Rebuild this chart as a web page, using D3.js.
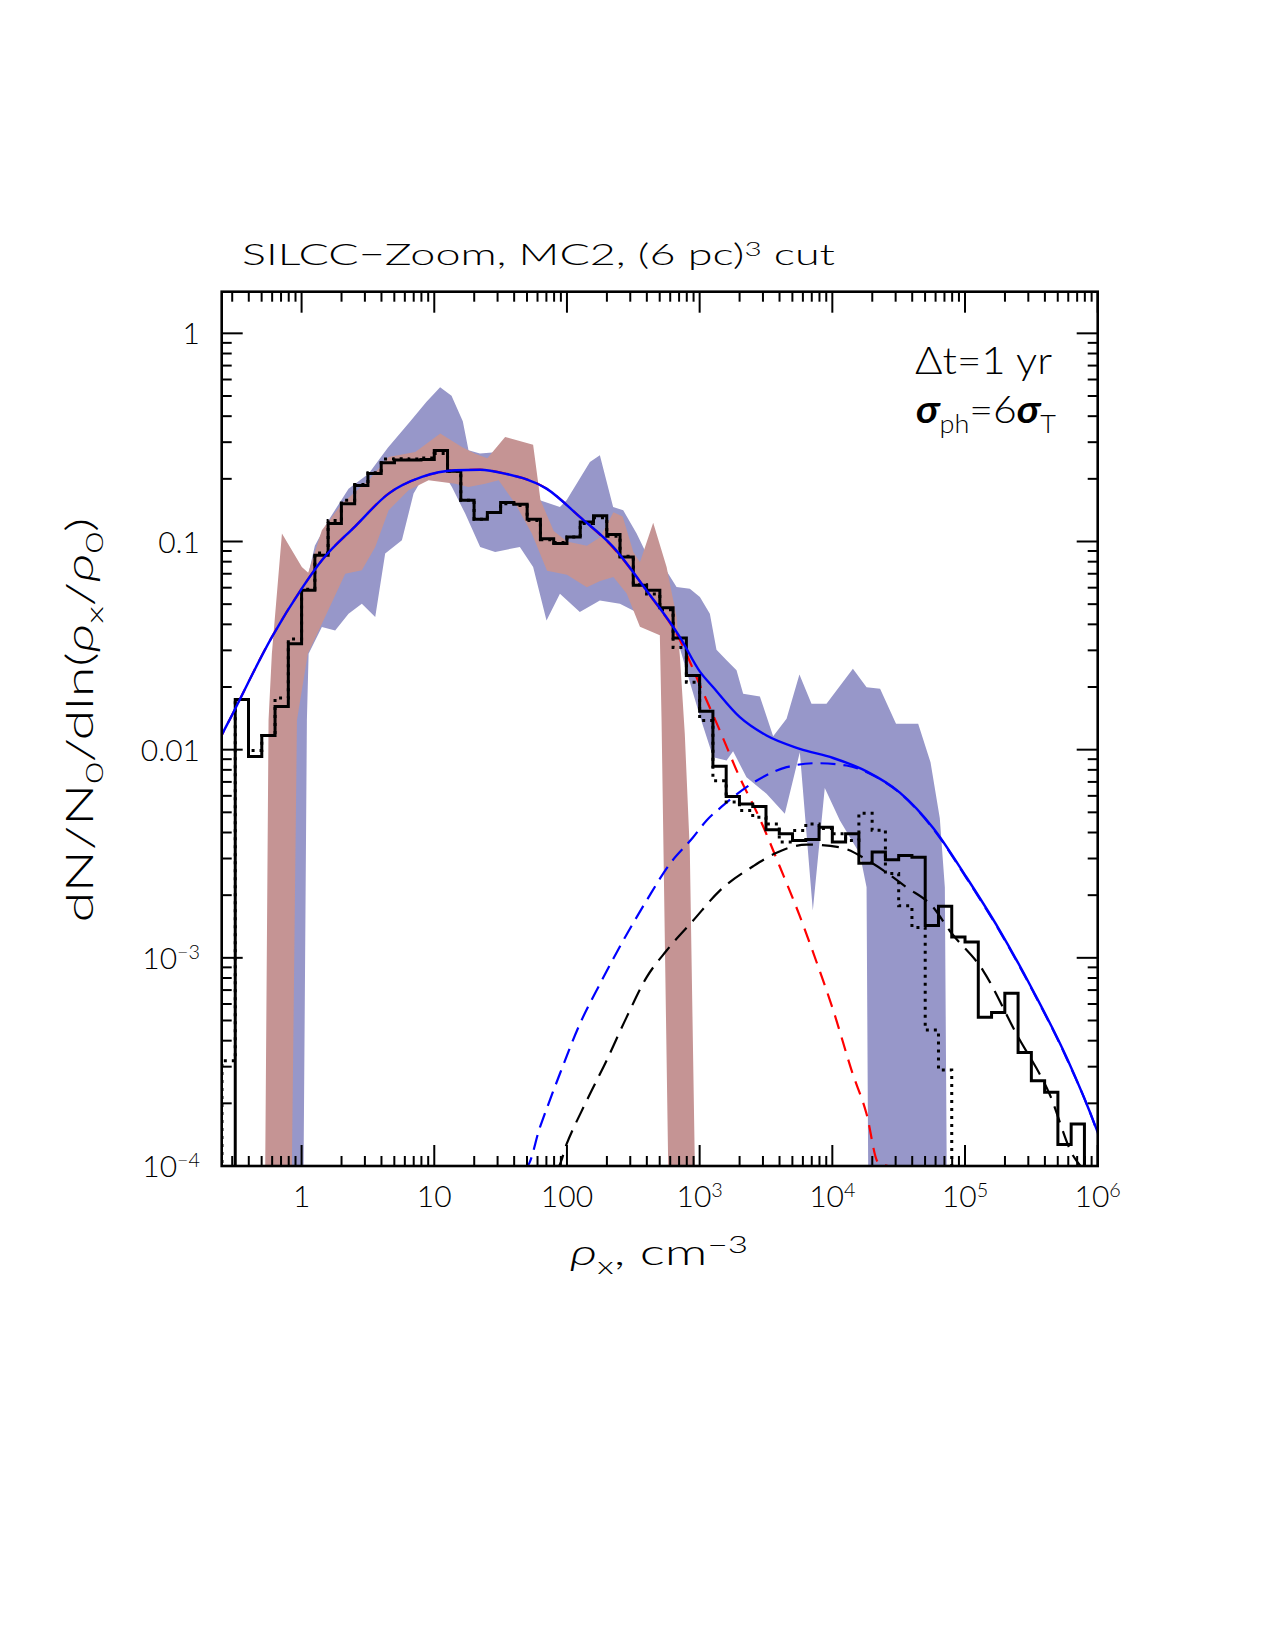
<!DOCTYPE html>
<html><head><meta charset="utf-8">
<script src="https://cdn.jsdelivr.net/npm/d3@7/dist/d3.min.js"></script>
<style>body{margin:0;background:#fff}</style>
</head><body>
<svg id="c" width="1275" height="1650" xmlns="http://www.w3.org/2000/svg"></svg>
<script>
// ---------------- data (densities as log10 where noted) -------------
const histEdgesLog = [-0.6,-0.5,-0.4,-0.3,-0.2,-0.1,0.0,0.1,0.2,0.3,0.4,0.5,0.6,0.7,0.8,0.9,1.0,1.1,1.2,1.3,1.4,1.5,1.6,1.7,1.8,1.9,2.0,2.1,2.2,2.3,2.4,2.5,2.6,2.7,2.8,2.9,3.0,3.1,3.2,3.3,3.4,3.5,3.6,3.7,3.8,3.9,4.0,4.1,4.2,4.3,4.4,4.5,4.6,4.7,4.8,4.9,5.0,5.1,5.2,5.3,5.4,5.5,5.6,5.7,5.8,5.9,6.0];
const histSolid = [0,0.0174,0.00927,0.0117,0.0161,0.0323,0.0583,0.0859,0.122,0.152,0.186,0.212,0.239,0.246,0.246,0.248,0.274,0.2175,0.158,0.128,0.138,0.154,0.151,0.128,0.103,0.0977,0.105,0.124,0.133,0.108,0.0843,0.0616,0.0583,0.048,0.0344,0.0227,0.0153,0.00833,0.00596,0.00549,0.00533,0.00412,0.00394,0.00366,0.0037,0.00424,0.0036,0.00394,0.00285,0.00322,0.00296,0.0031,0.00304,0.00143,0.00177,0.00126,0.00119,0.000518,0.000547,0.000675,0.000351,0.000257,0.000226,0.000127,0.000159,0];
const histDotted = [0.00032,0.0174,0.0099,0.0117,0.0177,0.034,0.059,0.088,0.126,0.158,0.188,0.214,0.249,0.25,0.249,0.252,0.265,0.2175,0.158,0.128,0.138,0.152,0.149,0.126,0.102,0.099,0.105,0.122,0.13,0.106,0.085,0.062,0.056,0.047,0.031,0.0211,0.0138,0.0071,0.0056,0.0051,0.00473,0.0044,0.0036,0.00409,0.0044,0.00418,0.00394,0.00366,0.00495,0.0041,0.00254,0.00178,0.0014,0.00045,0.000289,0,0,0,0,0,0,0,0,0,0,0];

// curves: [log10 rho, log10 dN/N0/dln]
const fitTotal = [[-0.63,-1.97],[-0.603,-1.932],[-0.538,-1.851],[-0.224,-1.459],[0.002,-1.225],[0.153,-1.09],[0.404,-0.927],[0.656,-0.77],[0.907,-0.69],[1.158,-0.658],[1.345,-0.655],[1.534,-0.674],[1.846,-0.746],[2.097,-0.882],[2.348,-1.026],[2.6,-1.235],[2.851,-1.459],[3.002,-1.625],[3.102,-1.7],[3.303,-1.844],[3.504,-1.932],[3.755,-1.996],[4.006,-2.04],[4.258,-2.104],[4.509,-2.206],[4.76,-2.376],[5.011,-2.613],[5.262,-2.869],[5.513,-3.158],[5.765,-3.478],[5.991,-3.823],[6.03,-3.89]];
const fitLowDensity = [[-0.63,-1.97],[-0.603,-1.932],[-0.538,-1.851],[-0.224,-1.459],[0.002,-1.225],[0.153,-1.09],[0.404,-0.927],[0.656,-0.77],[0.907,-0.69],[1.158,-0.658],[1.345,-0.655],[1.534,-0.674],[1.846,-0.746],[2.097,-0.882],[2.348,-1.03],[2.627,-1.26],[2.853,-1.475],[3.002,-1.69],[3.152,-1.908],[3.301,-2.132],[3.452,-2.33],[3.603,-2.56],[3.755,-2.8],[3.881,-3.02],[4.006,-3.25],[4.15,-3.55],[4.258,-3.75],[4.345,-3.983],[4.42,-4.15]];
const fitHighDensity = [[1.66,-4.08],[1.696,-4.005],[1.796,-3.815],[1.946,-3.558],[2.097,-3.318],[2.248,-3.126],[2.424,-2.917],[2.6,-2.725],[2.775,-2.549],[2.951,-2.421],[3.052,-2.34],[3.177,-2.268],[3.353,-2.18],[3.655,-2.084],[3.881,-2.065],[4.107,-2.076],[4.333,-2.132],[4.509,-2.208],[4.76,-2.38],[5.011,-2.617],[5.262,-2.873],[5.513,-3.162],[5.765,-3.482],[5.991,-3.827],[6.03,-3.9]];
const fitHistTail = [[1.9,-4.08],[1.934,-4.005],[1.997,-3.895],[2.148,-3.687],[2.298,-3.494],[2.449,-3.286],[2.6,-3.094],[2.751,-2.965],[2.951,-2.821],[3.152,-2.677],[3.403,-2.56],[3.58,-2.495],[3.806,-2.456],[4.057,-2.469],[4.308,-2.548],[4.559,-2.661],[4.76,-2.757],[4.886,-2.871],[5.136,-3.061],[5.388,-3.366],[5.637,-3.654],[5.815,-3.951],[5.87,-4.05]];

// bands: upper edge (left->right) and lower edge (left->right), log10
const blueUpper = [[-0.2,-4.5],[-0.16,-1.7],[0.0,-1.3],[0.1,-1.02],[0.203,-0.898],[0.354,-0.746],[0.505,-0.674],[0.65,-0.55],[0.818,-0.423],[0.94,-0.33],[1.044,-0.259],[1.13,-0.3],[1.215,-0.422],[1.258,-0.562],[1.344,-0.577],[1.485,-0.57],[1.6,-0.68],[1.796,-0.802],[1.947,-0.834],[1.997,-0.802],[2.173,-0.618],[2.248,-0.586],[2.348,-0.834],[2.424,-0.85],[2.525,-0.962],[2.6,-1.06],[2.7,-1.09],[2.826,-1.219],[2.926,-1.227],[3.002,-1.267],[3.077,-1.347],[3.127,-1.52],[3.203,-1.571],[3.278,-1.619],[3.328,-1.731],[3.454,-1.744],[3.554,-1.936],[3.655,-1.852],[3.752,-1.639],[3.843,-1.779],[3.956,-1.779],[4.155,-1.611],[4.258,-1.7],[4.36,-1.707],[4.48,-1.876],[4.647,-1.876],[4.74,-2.06],[4.81,-2.33],[4.848,-2.661],[4.862,-4.5]];
const blueLower = [[0.015,-4.5],[0.04,-1.859],[0.053,-1.539],[0.153,-1.411],[0.253,-1.427],[0.354,-1.347],[0.454,-1.299],[0.555,-1.363],[0.63,-1.058],[0.756,-0.994],[0.844,-0.77],[0.932,-0.674],[1.04,-0.642],[1.133,-0.738],[1.233,-0.866],[1.346,-1.026],[1.459,-1.05],[1.645,-1.026],[1.745,-1.123],[1.846,-1.379],[1.947,-1.251],[2.097,-1.339],[2.248,-1.283],[2.399,-1.299],[2.499,-1.331],[2.675,-1.395],[2.826,-1.459],[3.002,-1.84],[3.102,-2.036],[3.203,-2.052],[3.252,-2.008],[3.353,-2.132],[3.504,-2.212],[3.642,-2.308],[3.755,-2.012],[3.853,-2.773],[3.943,-2.184],[4.057,-2.34],[4.207,-2.5],[4.258,-2.661],[4.27,-4.5]];
const redUpper = [[-0.274,-4.5],[-0.249,-1.859],[-0.224,-1.539],[-0.148,-0.962],[0.002,-1.123],[0.05,-1.15],[0.153,-0.946],[0.304,-0.818],[0.505,-0.706],[0.656,-0.594],[0.857,-0.57],[1.045,-0.481],[1.208,-0.546],[1.308,-0.578],[1.4,-0.6],[1.534,-0.498],[1.745,-0.535],[1.8,-0.8],[1.9,-0.95],[2.0,-1.0],[2.15,-1.02],[2.25,-0.98],[2.35,-0.86],[2.42,-0.88],[2.5,-1.05],[2.55,-1.1],[2.65,-0.91],[2.751,-1.123],[2.826,-1.363],[2.851,-1.55],[2.888,-1.924],[2.926,-2.485],[2.964,-4.5]];
const redLower = [[-0.073,-4.5],[-0.035,-1.859],[0.047,-1.539],[0.153,-1.395],[0.329,-1.155],[0.454,-1.138],[0.555,-1.026],[0.656,-0.85],[0.806,-0.754],[0.957,-0.706],[1.158,-0.722],[1.258,-0.738],[1.383,-0.722],[1.485,-0.706],[1.61,-0.818],[1.735,-0.962],[1.85,-1.14],[2.0,-1.16],[2.15,-1.22],[2.25,-1.19],[2.35,-1.17],[2.45,-1.25],[2.55,-1.41],[2.7,-1.45],[2.713,-1.86],[2.763,-4.5]];

const xTickLabelVals = [1,10,100,1e3,1e4,1e5,1e6];
const xTickLabelText = ["1","10","100","10^3","10^4","10^5","10^6"];
const yTickLabelVals = [1,0.1,0.01,1e-3,1e-4];
const yTickLabelText = ["1","0.1","0.01","10^\u22123","10^\u22124"];

// ---------------- layout -------------
const L=221.7, R=1097.7, T=291.7, B=1166;
const FONT = "Lato, 'Liberation Sans', 'DejaVu Sans', sans-serif";
const svg = d3.select("#c");
const x = d3.scaleLog().domain([0.25,1e6]).range([L,R]);
const y = d3.scaleLog().domain([1e-4,Math.pow(10,0.2)]).range([B,T]).clamp(true);
const P = v => Math.pow(10,v);

svg.append("defs").append("clipPath").attr("id","clip")
  .append("rect").attr("x",L).attr("y",T).attr("width",R-L).attr("height",B-T);
const g = svg.append("g").attr("clip-path","url(#clip)");

const lineLog = d3.line().x(d=>x(P(d[0]))).y(d=>y(P(d[1])));
function band(up, lo, color){
  const pts = up.concat(lo.slice().reverse());
  g.append("path").attr("d", lineLog(pts)+"Z").attr("fill",color).attr("stroke","none");
}
band(blueUpper, blueLower, "#9797c9");
band(redUpper, redLower, "#c59494");

const smooth = d3.line().x(d=>x(P(d[0]))).y(d=>y(P(d[1]))).curve(d3.curveMonotoneX);
g.append("path").attr("d",smooth(fitLowDensity)).attr("fill","none").attr("stroke","#ff0000").attr("stroke-width",2.2).attr("stroke-dasharray","14,9");
g.append("path").attr("d",smooth(fitHighDensity)).attr("fill","none").attr("stroke","#0000ff").attr("stroke-width",2.2).attr("stroke-dasharray","15,8");
g.append("path").attr("d",smooth(fitHistTail)).attr("fill","none").attr("stroke","#000").attr("stroke-width",2.2).attr("stroke-dasharray","17,9");

function histPath(vals){
  const pts=[[x(P(histEdgesLog[0])), B+5]];
  vals.forEach((v,i)=>{
    const yy = v>0 ? y(v) : B+5;
    pts.push([x(P(histEdgesLog[i])), yy],[x(P(histEdgesLog[i+1])), yy]);
  });
  return d3.line()(pts);
}
g.append("path").attr("d",histPath(histDotted)).attr("fill","none").attr("stroke","#000").attr("stroke-width",3).attr("stroke-dasharray","3,5");
g.append("path").attr("d",histPath(histSolid)).attr("fill","none").attr("stroke","#000").attr("stroke-width",3);
g.append("path").attr("d",smooth(fitTotal)).attr("fill","none").attr("stroke","#0000ff").attr("stroke-width",2.4);

// ---------------- axes / frame -------------
const isMajor = t => Math.abs(Math.log10(t)-Math.round(Math.log10(t)))<1e-6;
const ax = svg.append("g").attr("stroke","#000").attr("stroke-width",2);
x.ticks().filter(t=>t>=0.25&&t<=1e6).forEach(t=>{
  const len = isMajor(t)?21:10, px=x(t);
  ax.append("line").attr("x1",px).attr("x2",px).attr("y1",B).attr("y2",B-len);
  ax.append("line").attr("x1",px).attr("x2",px).attr("y1",T).attr("y2",T+len);
});
y.ticks().filter(t=>t>=1e-4&&t<=1.6).forEach(t=>{
  const len = isMajor(t)?21:10, py=y(t);
  ax.append("line").attr("y1",py).attr("y2",py).attr("x1",L).attr("x2",L+len);
  ax.append("line").attr("y1",py).attr("y2",py).attr("x1",R).attr("x2",R-len);
});
svg.append("rect").attr("x",L).attr("y",T).attr("width",R-L).attr("height",B-T)
  .attr("fill","none").attr("stroke","#000").attr("stroke-width",2.6);

// rich text helper: parts [text, kind] kind: n|sup|sub|it|bit
function rich(sel, parts, size){
  let shift=0;
  parts.forEach(([s,k])=>{
    const t = sel.append("tspan").text(s);
    const target = k==="sup" ? -size*0.32 : (k==="sub" ? size*0.26 : 0);
    if (target-shift!==0) t.attr("dy", target-shift);
    shift = target;
    if (k==="sup"||k==="sub") t.attr("font-size", size*0.66);
    if (k==="it"||k==="bit") t.attr("font-style","italic");
    if (k==="bit") t.attr("font-weight",700);
  });
}
function supParts(s){ const a=s.split("^"); return a.length>1?[[a[0],"n"],[a[1],"sup"]]:[[s,"n"]]; }

const lab = svg.append("g").attr("font-family",FONT).attr("font-weight",300).attr("fill","#000");
xTickLabelVals.forEach((v,i)=>{
  const t = lab.append("text").attr("x",x(v)).attr("y",1207).attr("font-size",30).attr("text-anchor","middle");
  rich(t, supParts(xTickLabelText[i]), 30);
});
yTickLabelVals.forEach((v,i)=>{
  const t = lab.append("text").attr("x",200).attr("y",y(v)+11).attr("font-size",30).attr("text-anchor","end");
  rich(t, supParts(yTickLabelText[i]), 30);
});

// title
const tt = lab.append("text").attr("x",242).attr("y",265).attr("font-size",29)
  .attr("textLength",593).attr("lengthAdjust","spacingAndGlyphs");
rich(tt, [["SILCC\u2212Zoom, MC2, (6 pc)","n"],["3","sup"],[" cut","n"]], 29);

// x axis title
const xt = lab.append("text").attr("x",570).attr("y",1265).attr("font-size",36)
  .attr("textLength",178).attr("lengthAdjust","spacingAndGlyphs");
rich(xt, [["\u03c1","it"],["x","sub"],[", cm","n"],["\u22123","sup"]], 36);

// y axis title
const yt = lab.append("text").attr("transform","translate(93,720) rotate(-90)").attr("font-size",37)
  .attr("text-anchor","middle").attr("textLength",405).attr("lengthAdjust","spacingAndGlyphs");
rich(yt, [["dN/N","n"],["0","sub"],["/dln(","n"],["\u03c1","it"],["x","sub"],["/","n"],["\u03c1","it"],["0","sub"],[")","n"]], 37);

// annotations
const a1 = lab.append("text").attr("x",915).attr("y",374).attr("font-size",38)
  .attr("textLength",137).attr("lengthAdjust","spacingAndGlyphs");
rich(a1, [["\u0394t=1 yr","n"]], 38);
const a2 = lab.append("text").attr("x",916).attr("y",423).attr("font-size",38)
  .attr("textLength",140).attr("lengthAdjust","spacingAndGlyphs");
rich(a2, [["\u03c3","bit"],["ph","sub"],["=6","n"],["\u03c3","bit"],["T","sub"]], 38);
</script>
</body></html>
